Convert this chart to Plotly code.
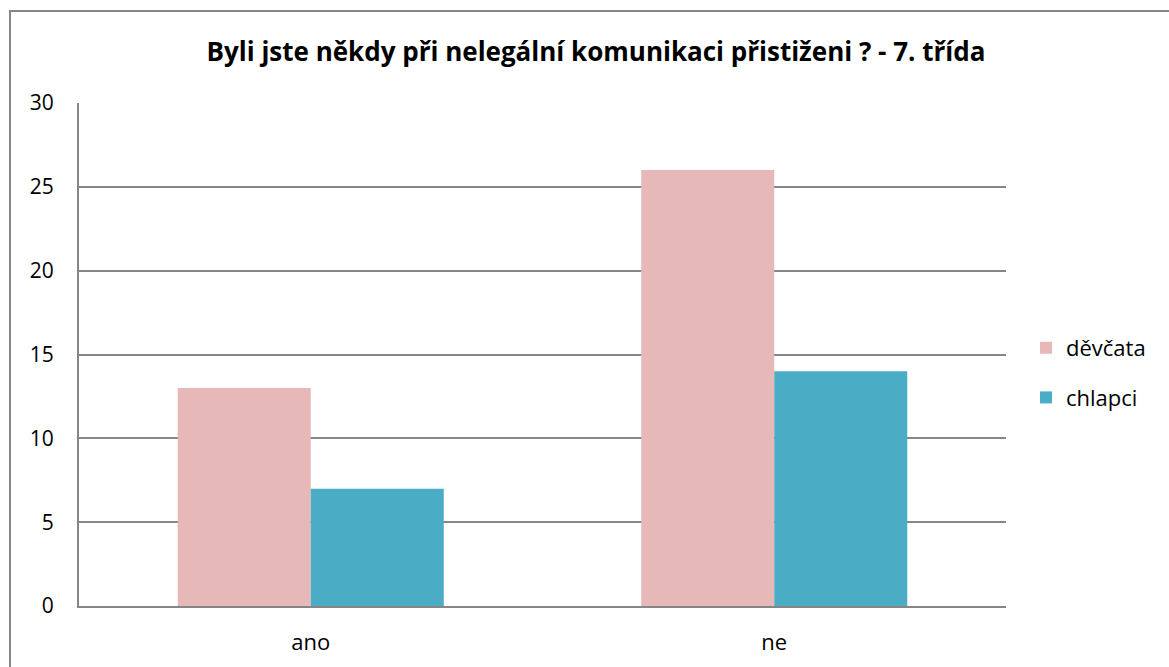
import plotly.graph_objects as go

categories = ["ano", "ne"]
devcata = [13, 26]
chlapci = [7, 14]
series_names = ["děvčata", "chlapci"]
title_text = "Byli jste někdy při nelegální komunikaci přistiženi ? - 7. třída"

W, H = 1169, 667
L, R, T, B = 79, 1169 - 1006, 103, 667 - 606
pw, ph = W - L - R, H - T - B

def px(x):
    return (x - L) / pw

def py(y):
    return (H - B - y) / ph

fig = go.Figure()
fig.add_trace(go.Bar(x=categories, y=devcata, name=series_names[0],
                     marker=dict(color="#E6B9B8", line=dict(width=0)), legendgroup="a"))
fig.add_trace(go.Bar(x=categories, y=chlapci, name=series_names[1],
                     marker=dict(color="#4BACC6", line=dict(width=0)), legendgroup="b"))

font_main = "Open Sans, Noto Sans, DejaVu Sans, sans-serif"
fig.update_layout(
    width=W, height=H,
    margin=dict(l=L, r=R, t=T, b=B),
    paper_bgcolor="white", plot_bgcolor="white",
    barmode="group", bargap=0.426, bargroupgap=0,
    font=dict(family=font_main, size=21, color="black"),
    title=dict(text="<b>" + title_text + "</b>", x=596 / W, xanchor="center",
               y=1 - 52 / H, yanchor="middle", yref="container",
               font=dict(family=font_main, size=26, color="black")),
    legend=dict(x=px(1026), xanchor="left", y=py(373), yanchor="middle",
                font=dict(size=22), tracegroupgap=18, bgcolor="rgba(0,0,0,0)",
                itemwidth=30),
    xaxis=dict(showline=True, linecolor="#868686", linewidth=2, ticks="",
               showgrid=False, tickfont=dict(size=22), ticklabelstandoff=16),
    yaxis=dict(range=[0, 30], dtick=5, showline=True, linecolor="#868686", linewidth=2,
               showgrid=True, gridcolor="#868686", gridwidth=1.5, ticks="",
               ticklabelstandoff=19, zeroline=False, tickfont=dict(size=21)),
    shapes=[dict(type="rect", xref="paper", yref="paper",
                 x0=px(10), x1=px(1180), y0=py(700), y1=py(11),
                 line=dict(color="#868686", width=2), fillcolor="rgba(0,0,0,0)", layer="below")],
)
fig.write_html("out.html", config={"displayModeBar": False},
               post_script="document.body.style.margin='0';document.body.style.overflow='hidden';")
